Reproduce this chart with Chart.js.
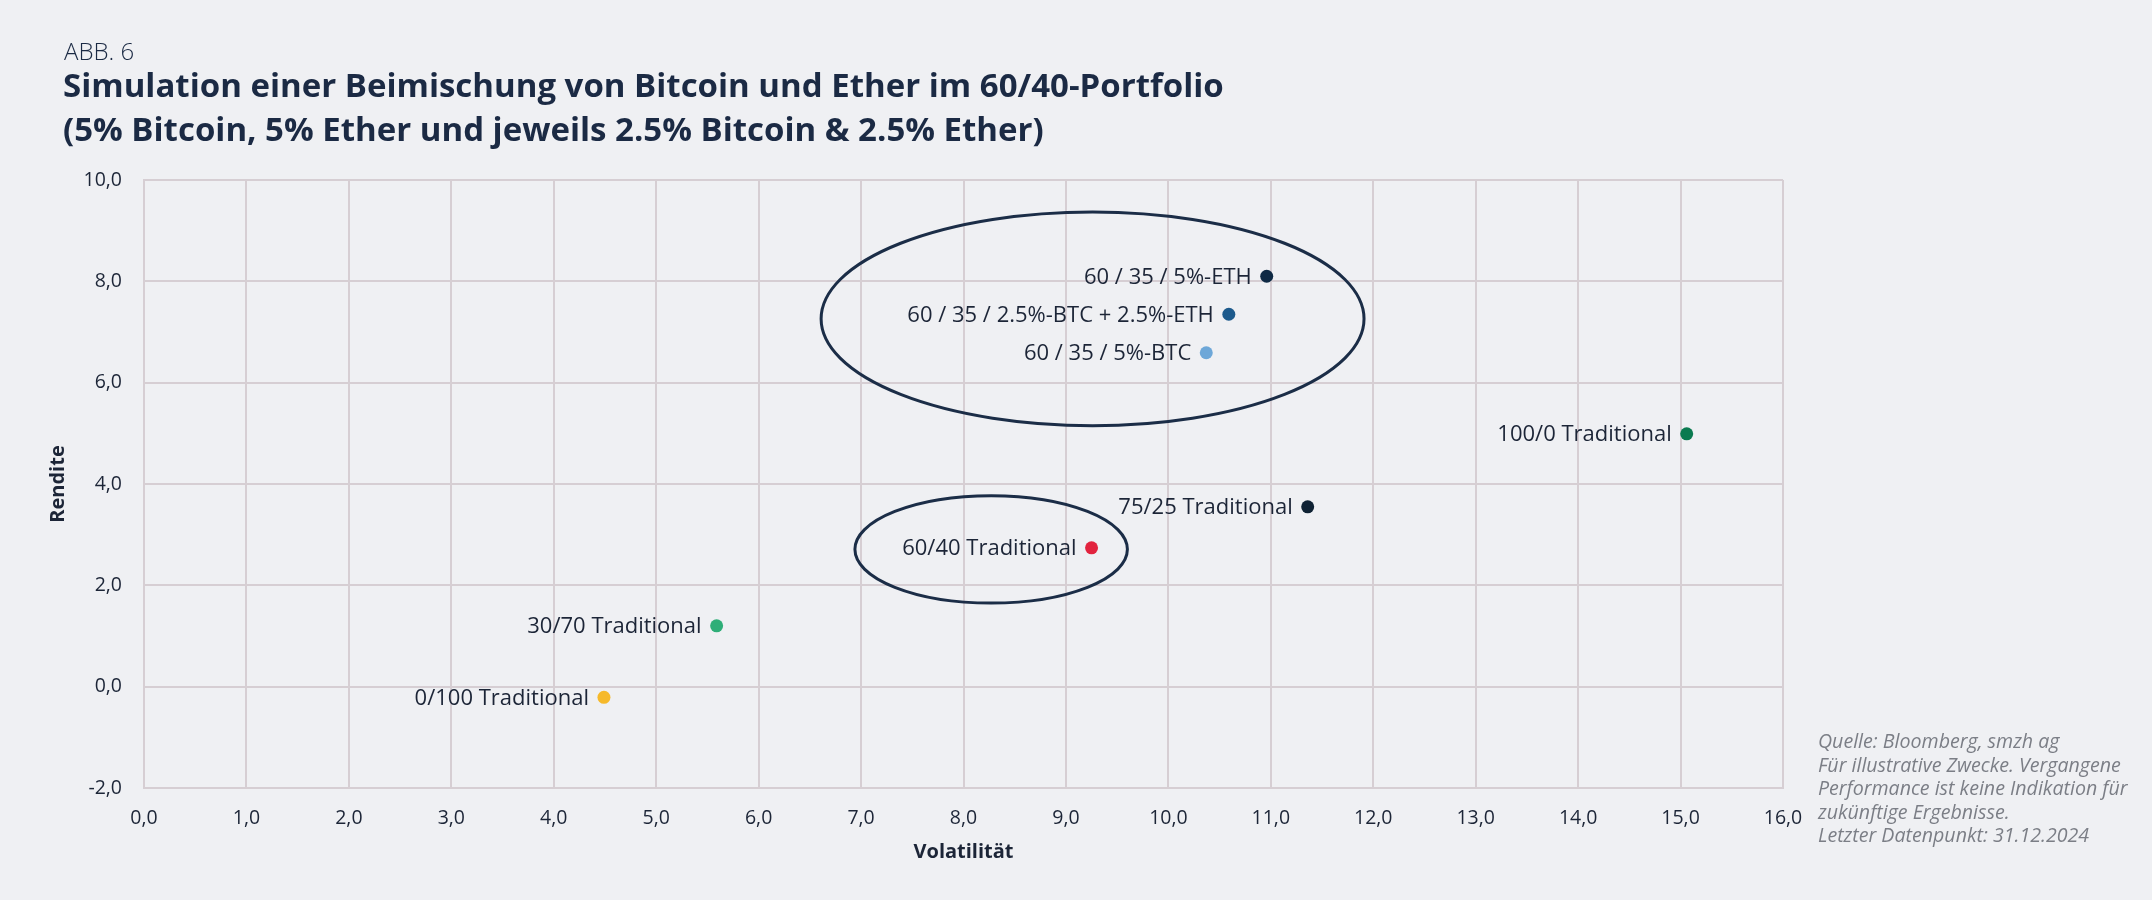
<!DOCTYPE html>
<html><head><meta charset="utf-8">
<script src="https://cdn.jsdelivr.net/npm/chart.js@4.4.1/dist/chart.umd.min.js"></script>
<style>
html,body{margin:0;padding:0;background:#eff0f3;}
body{width:2152px;height:900px;position:relative;overflow:hidden;font-family:'Open Sans',sans-serif;}
#abb{position:absolute;left:64px;top:36px;font-size:24px;color:#1b2a44;line-height:30px;font-weight:300;}
#title{position:absolute;left:63px;top:63px;font-size:33px;font-weight:700;color:#1b2a44;line-height:44px;white-space:nowrap;}
#note{position:absolute;left:1818px;top:729px;font-size:19.6px;font-style:italic;color:#7b7e86;line-height:23.5px;white-space:nowrap;}
canvas{position:absolute;left:0;top:0;}
</style></head><body>
<canvas id="c" width="2152" height="900"></canvas>
<div id="abb">ABB. 6</div>
<div id="title">Simulation einer Beimischung von Bitcoin und Ether im 60/40-Portfolio<br>(5% Bitcoin, 5% Ether und jeweils 2.5% Bitcoin &amp; 2.5% Ether)</div>
<div id="note">Quelle: Bloomberg, smzh ag<br>Für illustrative Zwecke. Vergangene<br>Performance ist keine Indikation für<br>zukünftige Ergebnisse.<br>Letzter Datenpunkt: 31.12.2024</div>
<script>
// ---- data ----
const portfolioLabels = ["60 / 35 / 5%-ETH", "60 / 35 / 2.5%-BTC + 2.5%-ETH", "60 / 35 / 5%-BTC", "100/0 Traditional", "75/25 Traditional", "60/40 Traditional", "30/70 Traditional", "0/100 Traditional"];
const volatility = [10.96, 10.59, 10.37, 15.06, 11.36, 9.25, 5.59, 4.49];
const returns = [8.10, 7.35, 6.59, 4.99, 3.55, 2.74, 1.20, -0.21];
const pointColors = ["#0f2a45", "#1d5a8c", "#6da7d8", "#0b7a50", "#0f2234", "#e2233e", "#2fae78", "#f6b92a"];
// highlight ellipses (data units): centre and half-axes
const ellipseCenterX = [9.26, 8.27];
const ellipseCenterY = [7.26, 2.71];
const ellipseHalfX = [2.65, 1.33];
const ellipseHalfY = [2.11, 1.06];
const xTicksMin = 0, xTicksMax = 16, xStep = 1;
const yTicksMin = -2, yTicksMax = 10, yStep = 2;

const FONT = "'Open Sans', sans-serif";
const TEXT = "#1c2537";
const GRID = "#d6ced3";

const ellipsePlugin = {
  id: 'ellipses',
  beforeDatasetsDraw(chart) {
    const {ctx, scales: {x, y}} = chart;
    ctx.save();
    ctx.strokeStyle = "#1b2d47";
    ctx.lineWidth = 3;
    for (let i = 0; i < ellipseCenterX.length; i++) {
      const cx = x.getPixelForValue(ellipseCenterX[i]);
      const cy = y.getPixelForValue(ellipseCenterY[i]);
      const rx = Math.abs(x.getPixelForValue(ellipseCenterX[i] + ellipseHalfX[i]) - cx);
      const ry = Math.abs(y.getPixelForValue(ellipseCenterY[i] + ellipseHalfY[i]) - cy);
      ctx.beginPath();
      ctx.ellipse(cx, cy, rx, ry, 0, 0, Math.PI * 2);
      ctx.stroke();
    }
    ctx.restore();
  }
};

const labelPlugin = {
  id: 'pointLabels',
  afterDatasetsDraw(chart) {
    const {ctx} = chart;
    const meta = chart.getDatasetMeta(0);
    ctx.save();
    ctx.font = "22px " + FONT;
    ctx.fillStyle = TEXT;
    ctx.textAlign = "right";
    ctx.textBaseline = "middle";
    meta.data.forEach((pt, i) => {
      ctx.fillText(portfolioLabels[i], pt.x - 15, pt.y + 1);
    });
    ctx.restore();
  }
};

const fmt = v => Number(v).toFixed(1).replace('.', ',');

new Chart(document.getElementById('c'), {
  type: 'scatter',
  data: {
    datasets: [{
      data: volatility.map((v, i) => ({x: v, y: returns[i]})),
      backgroundColor: pointColors,
      borderColor: pointColors,
      pointRadius: 6.5,
      pointHoverRadius: 6.5,
      borderWidth: 0
    }]
  },
  options: {
    responsive: false,
    animation: false,
    events: [],
    layout: {padding: {left: 0, top: 180, right: 369, bottom: 0}},
    plugins: {legend: {display: false}, tooltip: {enabled: false}},
    scales: {
      x: {
        type: 'linear', min: xTicksMin, max: xTicksMax,
        afterFit(s) { s.height = 112; },
        ticks: {stepSize: xStep, callback: fmt, color: TEXT, font: {family: FONT, size: 19.5}, padding: 19, maxRotation: 0},
        grid: {color: GRID, lineWidth: 2, drawTicks: false},
        border: {color: GRID, width: 2},
        title: {display: true, text: 'Volatilität', color: TEXT, font: {family: FONT, size: 20, weight: 'bold'}, padding: {top: 0, bottom: 36}}
      },
      y: {
        type: 'linear', min: yTicksMin, max: yTicksMax,
        afterFit(s) { s.width = 144; },
        ticks: {stepSize: yStep, callback: fmt, color: TEXT, font: {family: FONT, size: 19.5}, padding: 22},
        grid: {color: GRID, lineWidth: 2, drawTicks: false},
        border: {color: GRID, width: 2},
        title: {display: true, text: 'Rendite', color: TEXT, font: {family: FONT, size: 20, weight: 'bold'}, padding: {top: 46, bottom: 0}}
      }
    }
  },
  plugins: [ellipsePlugin, labelPlugin]
});
</script>
</body></html>
